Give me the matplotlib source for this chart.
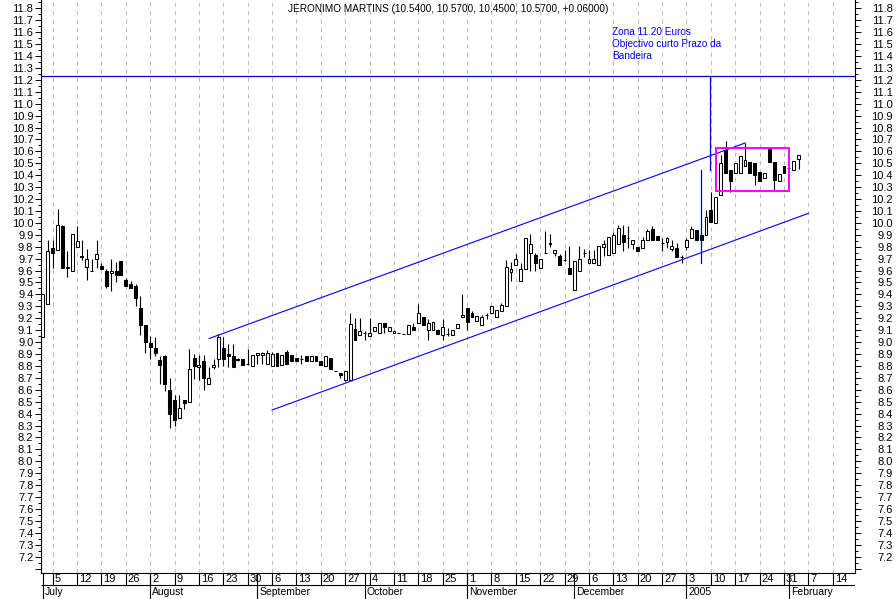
import numpy as np
import pandas as pd
import matplotlib
matplotlib.use('Agg')
import matplotlib.pyplot as plt
from matplotlib.patches import Rectangle
from matplotlib.ticker import MultipleLocator, FuncFormatter
from matplotlib.transforms import ScaledTranslation

plt.rcParams['font.family'] = ['Liberation Sans', 'DejaVu Sans']
plt.rcParams['font.size'] = 8

# Daily candles, one per weekday starting 1 July 2004.
opens = [9.04, 9.32, 9.79, 9.77, 9.97, 9.62, 9.60, 9.80, 9.72, 9.63,
         9.60, 9.70, 9.64, 9.60, 9.58, 9.60, 9.68, 9.52, 9.49, 9.47,
         9.29, 9.14, 8.99, 8.95, 8.85, 8.88, 8.60, 8.51, 8.36, 8.51,
         8.50, 8.87, 8.79, 8.84, 8.65, 8.79, 8.86, 8.95, 8.90, 8.88,
         8.86, 8.86, 8.82, 8.80, 8.89, 8.89, 8.82, 8.80, 8.91, 8.81,
         8.92, 8.89, 8.87, 8.86, 8.88, 8.84, 8.88, 8.84, 8.80, 8.87,
         8.76, 8.74, 8.68, 8.68, 9.11, 9.06, 9.08, 9.05, 9.09, 9.08,
         9.16, 9.09, 9.08, 9.08, 9.07, 9.07, 9.13, 9.16, 9.21, 9.10,
         9.10, 9.10, 9.06, 9.07, 9.06, 9.12, 9.21, 9.29, 9.24, 9.18,
         9.14, 9.23, 9.24, 9.21, 9.26, 9.30, 9.59, 9.65, 9.51, 9.61,
         9.75, 9.73, 9.62, 9.75, 9.83, 9.75, 9.72, 9.69, 9.62, 9.44,
         9.60, 9.75, 9.66, 9.66, 9.65, 9.80, 9.73, 9.75, 9.82, 9.90,
         9.87, 9.82, 9.80, 9.79, 9.86, 9.95, 9.89, 9.83, 9.84, 9.78,
         9.79, 9.71, 9.80, 9.87, 9.94, 9.90, 9.90, 10.11, 10.00, 10.23,
         10.61, 10.44, 10.42, 10.42, 10.48, 10.51, 10.50, 10.43, 10.38, 10.63,
         10.51, 10.35, 10.48, 10.46, 10.44, 10.54]
highs = [9.40, 9.86, 9.86, 10.12, 9.98, 9.76, 9.91, 9.97, 9.86, 9.78,
         9.70, 9.86, 9.66, 9.61, 9.70, 9.67, 9.68, 9.54, 9.51, 9.49,
         9.39, 9.14, 9.05, 9.04, 8.88, 8.89, 8.70, 8.56, 8.56, 8.51,
         8.94, 8.90, 8.89, 8.89, 8.79, 8.86, 9.07, 9.04, 8.98, 8.98,
         8.87, 8.86, 8.94, 8.89, 8.91, 8.92, 8.93, 8.92, 8.91, 8.89,
         8.93, 8.89, 8.87, 8.89, 8.88, 8.88, 8.88, 8.84, 8.88, 8.87,
         8.76, 8.74, 8.76, 9.24, 9.20, 9.20, 9.09, 9.20, 9.13, 9.16,
         9.16, 9.13, 9.09, 9.08, 9.07, 9.14, 9.16, 9.32, 9.21, 9.19,
         9.17, 9.10, 9.19, 9.12, 9.10, 9.15, 9.40, 9.29, 9.26, 9.22,
         9.23, 9.24, 9.30, 9.27, 9.33, 9.69, 9.67, 9.74, 9.66, 9.87,
         9.91, 9.75, 9.70, 9.93, 9.91, 9.77, 9.74, 9.77, 9.81, 9.68,
         9.81, 9.78, 9.77, 9.77, 9.81, 9.86, 9.88, 9.92, 9.98, 9.98,
         9.97, 9.86, 9.80, 9.88, 9.95, 9.97, 9.89, 9.87, 9.88, 9.86,
         9.83, 9.73, 9.87, 9.97, 9.94, 9.93, 10.11, 10.26, 10.22, 10.57,
         10.69, 10.44, 10.50, 10.56, 10.67, 10.51, 10.50, 10.43, 10.42, 10.63,
         10.51, 10.41, 10.48, 10.46, 10.52, 10.57]
lows = [9.04, 9.32, 9.62, 9.77, 9.62, 9.55, 9.60, 9.80, 9.69, 9.52,
        9.60, 9.62, 9.61, 9.45, 9.43, 9.50, 9.56, 9.47, 9.45, 9.30,
        9.06, 8.91, 8.86, 8.88, 8.65, 8.59, 8.28, 8.30, 8.36, 8.44,
        8.50, 8.69, 8.68, 8.60, 8.65, 8.77, 8.79, 8.80, 8.79, 8.79,
        8.84, 8.81, 8.81, 8.80, 8.82, 8.82, 8.82, 8.80, 8.80, 8.81,
        8.82, 8.84, 8.84, 8.82, 8.84, 8.84, 8.84, 8.81, 8.80, 8.77,
        8.76, 8.70, 8.67, 8.68, 9.02, 9.06, 9.02, 9.05, 9.09, 9.08,
        9.08, 9.09, 9.08, 9.08, 9.07, 9.07, 9.10, 9.16, 9.14, 9.02,
        9.10, 9.07, 9.02, 9.05, 9.06, 9.12, 9.21, 9.10, 9.21, 9.18,
        9.14, 9.19, 9.24, 9.21, 9.26, 9.30, 9.51, 9.65, 9.51, 9.61,
        9.60, 9.60, 9.62, 9.75, 9.80, 9.72, 9.65, 9.68, 9.57, 9.44,
        9.60, 9.71, 9.66, 9.66, 9.65, 9.72, 9.73, 9.75, 9.82, 9.76,
        9.79, 9.78, 9.76, 9.79, 9.86, 9.86, 9.86, 9.76, 9.79, 9.76,
        9.71, 9.66, 9.77, 9.87, 9.86, 9.86, 9.90, 10.01, 10.00, 10.23,
        10.42, 10.26, 10.42, 10.42, 10.48, 10.42, 10.32, 10.35, 10.38, 10.51,
        10.28, 10.35, 10.42, 10.46, 10.44, 10.45]
closes = [9.40, 9.76, 9.75, 9.98, 9.62, 9.63, 9.91, 9.85, 9.71, 9.70,
          9.60, 9.74, 9.61, 9.47, 9.60, 9.56, 9.56, 9.47, 9.45, 9.37,
          9.14, 9.00, 8.96, 8.91, 8.81, 8.65, 8.40, 8.35, 8.45, 8.49,
          8.77, 8.80, 8.81, 8.70, 8.70, 8.81, 9.04, 8.86, 8.88, 8.79,
          8.85, 8.81, 8.82, 8.89, 8.91, 8.91, 8.91, 8.90, 8.80, 8.89,
          8.82, 8.84, 8.84, 8.86, 8.84, 8.88, 8.84, 8.81, 8.88, 8.77,
          8.76, 8.72, 8.76, 9.15, 9.02, 9.09, 9.08, 9.08, 9.13, 9.16,
          9.13, 9.13, 9.09, 9.08, 9.07, 9.14, 9.10, 9.24, 9.14, 9.16,
          9.17, 9.07, 9.13, 9.07, 9.10, 9.15, 9.23, 9.17, 9.21, 9.22,
          9.21, 9.23, 9.30, 9.27, 9.31, 9.63, 9.61, 9.70, 9.61, 9.87,
          9.82, 9.66, 9.70, 9.75, 9.82, 9.77, 9.65, 9.69, 9.57, 9.68,
          9.70, 9.75, 9.70, 9.70, 9.81, 9.82, 9.88, 9.90, 9.96, 9.84,
          9.87, 9.86, 9.76, 9.86, 9.93, 9.86, 9.86, 9.83, 9.87, 9.81,
          9.71, 9.71, 9.86, 9.95, 9.86, 9.86, 10.05, 10.01, 10.22, 10.50,
          10.42, 10.35, 10.50, 10.56, 10.53, 10.42, 10.40, 10.35, 10.42, 10.51,
          10.36, 10.41, 10.42, 10.46, 10.52, 10.57]

title = 'JERONIMO MARTINS (10.5400, 10.5700, 10.4500, 10.5700, +0.06000)'
note = ['Zona 11.20 Euros', 'Objectivo curto Prazo da', 'Bandeira']

# Drawn studies, (day index, price).
upper_channel = [(34.1, 9.03), (144.0, 10.67)]
lower_channel = [(47.0, 8.43), (157.0, 10.08)]
target_price = 11.235
target_drop_hi = [(136.8, 10.44), (136.8, 11.235)]
target_drop_lo = [(135.0, 9.665), (135.0, 10.44)]
flag_box = [(138.1, 10.27), (153.0, 10.63)]

# Calendar of weekdays covering the axis.
days = pd.bdate_range('2004-07-01', '2005-02-18')
xall = np.arange(len(days))
mondays = xall[days.dayofweek == 0]
month_start = [0] + [i for i in range(1, len(days)) if days[i].month != days[i - 1].month]

W, H = 896, 599
fig = plt.figure(figsize=(W / 100, H / 100), dpi=100)
ax = fig.add_axes([40.7 / W, 26.3 / H, 814 / W, 572.7 / H])
axd = fig.add_axes([40.7 / W, 0, 814 / W, 26.3 / H])

xlo, xhi = -0.46, 166.5
ylo, yhi = 7.065, 11.87
ax.set_xlim(xlo, xhi)
ax.set_ylim(ylo, yhi)

# Weekly grid.
ax.vlines(mondays, ylo, yhi, colors='#bdbdbd', linestyles=(0, (4, 4)), lw=0.75, zorder=0)

# Candles.
o = np.array(opens)
c = np.array(closes)
x = np.arange(len(o))
ax.vlines(x, lows, highs, colors='black', lw=0.8, zorder=2)
body_lo = np.minimum(o, c)
body_h = np.abs(c - o)
faces = ['black' if cc < oo else 'white' for oo, cc in zip(o, c)]
ax.bar(x, body_h, bottom=body_lo, width=0.6, color=faces, edgecolor='black', lw=0.75, zorder=3)

# Studies.
for line in (upper_channel, lower_channel):
    (x0, y0), (x1, y1) = line
    ax.plot([x0, x1], [y0, y1], color='#0000ff', lw=0.8, zorder=4)
ax.axhline(target_price, color='#0000cc', lw=0.9, zorder=4)
for seg in (target_drop_hi, target_drop_lo):
    ax.plot([seg[0][0], seg[1][0]], [seg[0][1], seg[1][1]], color='#0000cc', lw=0.9, zorder=4)
(bx0, by0), (bx1, by1) = flag_box
ax.add_patch(Rectangle((bx0, by0), bx1 - bx0, by1 - by0, fill=False,
                       edgecolor='#ff00ff', lw=1.4, zorder=5))

for k, txt in enumerate(note):
    ax.text(116.7, 11.604 - k * 0.1, txt, color='#0000ff', ha='left', va='center', fontsize=7.2)

fig.text(0.5, 1 - 8.5 / H, title, ha='center', va='center', fontsize=7.2)

# Y axis labelled on both sides; no label below 7.2.
ax.yaxis.set_major_locator(MultipleLocator(0.1))
ax.yaxis.set_minor_locator(MultipleLocator(0.05))
ax.yaxis.set_major_formatter(FuncFormatter(lambda v, p: '%.1f' % v if v > 7.15 else ''))
ax.tick_params(axis='y', which='major', direction='out', length=4.3, width=0.7,
               left=True, right=True, labelleft=True, labelright=True, pad=1)
ax.tick_params(axis='y', which='minor', direction='out', length=2.2, width=0.7,
               left=True, right=True)
ax.tick_params(axis='x', bottom=False, labelbottom=False)
ax.draw(fig.canvas.get_renderer())
# right-hand labels are right aligned at the figure edge
shift = ax.get_yaxis_transform(which='tick2') + ScaledTranslation(0.383, 0, fig.dpi_scale_trans)
for t in ax.yaxis.get_major_ticks():
    t.label2.set_horizontalalignment('right')
    t.label2.set_x(1.0)
    t.label2.set_transform(shift)
ax.spines['top'].set_visible(False)
for s in ('left', 'right', 'bottom'):
    ax.spines[s].set_linewidth(0.8)

# Date strip under the chart.
axd.set_xlim(xlo, xhi)
axd.set_ylim(0, 26.3)
axd.axis('off')
axd.hlines(14, xlo, xhi, colors='black', lw=0.8)
axd.vlines(mondays, 14, 26.3, colors='black', lw=0.8)
axd.vlines(month_start, 0, 26.3, colors='black', lw=0.8)
for i in mondays:
    axd.text(i + 0.4, 20, str(days[i].day), ha='left', va='center', fontsize=8)
for i in month_start:
    d = days[i]
    lab = str(d.year) if d.month == 1 else d.strftime('%B')
    axd.text(i + 0.4, 6.8, lab, ha='left', va='center', fontsize=7.5)

fig.savefig('out.png', dpi=100)
